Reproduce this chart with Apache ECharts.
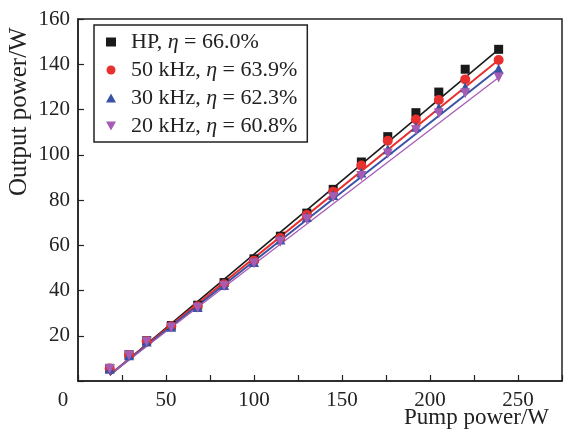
<!DOCTYPE html>
<html><head><meta charset="utf-8">
<script src="https://cdn.jsdelivr.net/npm/echarts@6/dist/echarts.min.js"></script>
<style>html,body{margin:0;padding:0;background:#fff}#c{width:565px;height:432px}</style>
</head><body><div id="c"></div>
<script>
// Pump power (W)
var pump = [18, 29, 39, 53, 68, 83, 100, 115, 130, 145, 161, 176, 192, 205, 220, 239];
// Output power (W)
var hp   = [5.6, 11.6, 17.8, 24.5, 33.5, 43.5, 54.0, 64.0, 74.2, 84.7, 96.8, 108.0, 118.6, 127.7, 137.8, 146.6];
var k50  = [5.5, 11.5, 17.6, 24.2, 33.0, 42.8, 53.2, 63.2, 73.4, 83.7, 95.2, 106.2, 115.6, 124.2, 133.3, 141.9];
var k30  = [5.4, 11.4, 17.5, 24.0, 32.7, 42.4, 52.6, 62.5, 72.5, 82.2, 92.1, 102.4, 112.4, 120.8, 129.8, 138.0];
var k20  = [5.3, 11.3, 17.3, 23.7, 32.4, 42.0, 52.0, 61.6, 71.5, 81.2, 90.6, 100.6, 110.9, 118.3, 127.2, 134.1];
// Linear fit lines (endpoints)
var fitX   = [18, 239];
var fitHP  = [2.6, 146.6];
var fit50  = [2.7, 141.9];
var fit30  = [2.8, 138.0];
var fit20  = [2.9, 134.1];
var names = ['HP, η = 66.0%', '50 kHz, η = 63.9%', '30 kHz, η = 62.3%', '20 kHz, η = 60.8%'];
var xTicks = [0, 50, 100, 150, 200, 250];
var yTicks = [20, 40, 60, 80, 100, 120, 140, 160];

var colors = ['#1a1a1a', '#e8302e', '#3a52a6', '#a65cb3'];
var symbols = ['rect', 'circle', 'triangle', 'path://M0,0 L10,0 L5,9 Z'];
var sizes = [9, 10, 10, 10];
var lw = [1.6, 2, 2, 1.3];
var FONT = '"Liberation Serif", "Times New Roman", serif';

function pairs(xs, ys) { return xs.map(function (x, i) { return [x, ys[i]]; }); }

var pts = [hp, k50, k30, k20];
var fits = [fitHP, fit50, fit30, fit20];
var series = [];
fits.forEach(function (f, i) {
  series.push({
    type: 'line', data: pairs(fitX, f), showSymbol: false, symbol: 'none',
    lineStyle: { color: colors[i], width: lw[i] }, z: 2, silent: true
  });
});
pts.forEach(function (p, i) {
  series.push({
    type: 'scatter', name: names[i], data: pairs(pump, p),
    symbol: symbols[i], symbolSize: sizes[i],
    itemStyle: { color: colors[i], opacity: 1 }, z: 3
  });
});

var chart = echarts.init(document.getElementById('c'), null, { renderer: 'canvas' });
chart.setOption({
  animation: false,
  backgroundColor: '#fff',
  grid: { left: 78, top: 19, width: 488, height: 362, show: true, borderColor: '#222', borderWidth: 1.5, backgroundColor: 'transparent' },
  legend: {
    data: names, orient: 'vertical', left: 94, top: 25,
    padding: [6, 10, 5, 12], itemGap: 6, itemWidth: 10, itemHeight: 9,
    borderColor: '#222', borderWidth: 1.5, backgroundColor: '#fff',
    formatter: function (n) { return n.replace('η', '{i|η}'); },
    textStyle: { fontFamily: FONT, fontSize: 22, color: '#222', lineHeight: 22, padding: [0, 0, 0, 10],
      rich: { i: { fontFamily: FONT, fontStyle: 'italic', fontSize: 22, color: '#222', lineHeight: 22 } } }
  },
  xAxis: {
    type: 'value', min: 0, max: 275, interval: 25,
    axisLine: { lineStyle: { color: '#222', width: 1.5 } },
    axisTick: { inside: true, length: 6, lineStyle: { color: '#222', width: 1.2 } },
    splitLine: { show: false },
    axisLabel: {
      margin: 9, fontFamily: FONT, fontSize: 21, color: '#222',
      formatter: function (v) {
        if (xTicks.indexOf(v) < 0) return '';
        return v === 0 ? '{o|0}' : String(v);
      },
      rich: { o: { fontFamily: FONT, fontSize: 21, color: '#222', padding: [0, 30, 0, 0] } }
    }
  },
  yAxis: {
    type: 'value', min: 0, max: 160, interval: 20,
    axisLine: { lineStyle: { color: '#222', width: 1.5 } },
    axisTick: { inside: true, length: 6, lineStyle: { color: '#222', width: 1.2 } },
    splitLine: { show: false },
    axisLabel: {
      margin: 8, fontFamily: FONT, fontSize: 21, color: '#222',
      formatter: function (v) { return yTicks.indexOf(v) >= 0 ? String(v) : ''; }
    }
  },
  graphic: [
    { type: 'text', left: 404, top: 406, style: { text: 'Pump power/W', font: '23px ' + FONT, fill: '#222' } },
    { type: 'text', x: 7, y: 196, rotation: Math.PI / 2, style: { text: 'Output power/W', font: '25px ' + FONT, fill: '#222' } }
  ],
  series: series
});
</script></body></html>
